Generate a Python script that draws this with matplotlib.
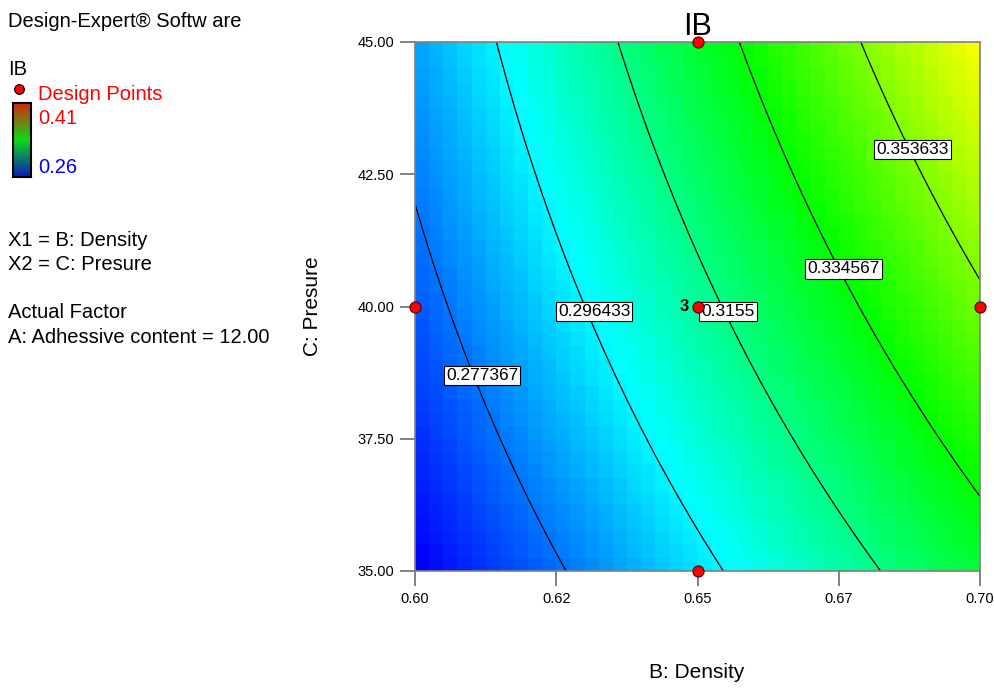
import numpy as np
import matplotlib
matplotlib.use("Agg")
import matplotlib.pyplot as plt
from matplotlib.colors import LinearSegmentedColormap

plt.rcParams['font.family'] = ['Liberation Sans', 'DejaVu Sans']

# ---- data ----
b_range = [0.60, 0.70]          # B: Density
c_range = [35.0, 45.0]          # C: Presure
# fitted quadratic model in coded units (x1 = B, x2 = C)
coef_names = ["const", "B", "C", "BC", "B2", "C2"]
coef_vals = [0.3121, 0.0393, 0.01735, 0.00505, 0.0, -0.00145]
levels = [0.277367, 0.296433, 0.3155, 0.334567, 0.353633]
level_labels = ["0.277367", "0.296433", "0.3155", "0.334567", "0.353633"]
label_b = [0.6119, 0.6317, 0.6554, 0.6758, 0.6881]
label_c = [38.69, 39.91, 39.91, 40.71, 42.96]
design_b = [0.60, 0.70, 0.65, 0.65, 0.65]
design_c = [40.0, 40.0, 45.0, 35.0, 40.0]
x_ticks = [0.60, 0.625, 0.65, 0.675, 0.70]
x_tick_labels = ["0.60", "0.62", "0.65", "0.67", "0.70"]
y_ticks = [35.0, 37.5, 40.0, 42.5, 45.0]
y_tick_labels = ["35.00", "37.50", "40.00", "42.50", "45.00"]
color_low, color_high = 0.26, 0.41

coef = dict(zip(coef_names, coef_vals))


def model(b, c):
    x1 = (b - 0.65) / 0.05
    x2 = (c - 40.0) / 5.0
    return (coef["const"] + coef["B"] * x1 + coef["C"] * x2 + coef["BC"] * x1 * x2
            + coef["B2"] * x1 ** 2 + coef["C2"] * x2 ** 2)


W, H = 994, 688
fig = plt.figure(figsize=(W / 100, H / 100), dpi=100)


def fx(px):
    return px / W


def fy(py):
    return 1 - py / H


ax = fig.add_axes([fx(415), fy(571), fx(980) - fx(415), fy(42) - fy(571)])

cmap = LinearSegmentedColormap.from_list(
    "de", [(0, 0, 1), (0, 1, 1), (0, 1, 0), (1, 1, 0), (1, 0, 0)])

# blocky colour field
nb, nc = 40, 40
be = np.linspace(b_range[0], b_range[1], nb + 1)
ce = np.linspace(c_range[0], c_range[1], nc + 1)
bcen = (be[:-1] + be[1:]) / 2
ccen = (ce[:-1] + ce[1:]) / 2
BB, CC = np.meshgrid(bcen, ccen)
ax.pcolormesh(be, ce, model(BB, CC), cmap=cmap, vmin=color_low, vmax=color_high,
              shading='flat', rasterized=True)

# contour lines
bf = np.linspace(b_range[0], b_range[1], 300)
cf = np.linspace(c_range[0], c_range[1], 300)
BF, CF = np.meshgrid(bf, cf)
ax.contour(BF, CF, model(BF, CF), levels=levels, colors='black', linewidths=0.9)

for lb, lc, txt in zip(label_b, label_c, level_labels):
    ax.text(lb, lc, txt, ha='center', va='center', fontsize=12.5, zorder=5,
            bbox=dict(boxstyle='square,pad=0.12', fc='white', ec='black', lw=0.8))

ax.plot(design_b, design_c, 'o', ms=8, mfc='red', mec='#500000', mew=0.8,
        clip_on=False, zorder=6)
ax.text(0.6485, 40.0, "3", ha='right', va='center', fontsize=12, fontweight='bold', zorder=6)

ax.set_xlim(b_range)
ax.set_ylim(c_range)
ax.set_xticks(x_ticks)
ax.set_xticklabels(x_tick_labels)
ax.set_yticks(y_ticks)
ax.set_yticklabels(y_tick_labels)
ax.tick_params(direction='out', length=11, width=1.4, color='#808080',
               labelsize=10.5, pad=4)
for s in ax.spines.values():
    s.set_color('#808080')
    s.set_linewidth(1.2)

ax.set_title("IB", fontsize=22, pad=2)
fig.text(fx(697), fy(672), "B: Density", ha='center', va='center', fontsize=15)
fig.text(fx(312), fy(306), "C: Presure", ha='center', va='center', fontsize=15,
         rotation=90)

# left annotation panel
fs = 14.5
fig.text(fx(8), fy(27), "Design-Expert\u00ae Softw are", fontsize=fs, va='baseline')
fig.text(fx(8), fy(75), "IB", fontsize=fs, va='baseline')
fig.text(fx(38), fy(100), "Design Points", fontsize=fs, va='baseline', color='red')
fig.text(fx(38), fy(124), "0.41", fontsize=fs, va='baseline', color='red')
fig.text(fx(38), fy(173), "0.26", fontsize=fs, va='baseline', color='blue')
fig.text(fx(8), fy(246), "X1 = B: Density", fontsize=fs, va='baseline')
fig.text(fx(8), fy(270), "X2 = C: Presure", fontsize=fs, va='baseline')
fig.text(fx(8), fy(318), "Actual Factor", fontsize=fs, va='baseline')
fig.text(fx(8), fy(343), "A: Adhessive content = 12.00", fontsize=fs, va='baseline')

mk = fig.add_axes([fx(12), fy(95), fx(26) - fx(12), fy(83) - fy(95)])
mk.plot([0], [0], 'o', ms=7, mfc='red', mec='black', mew=0.8)
mk.set_xlim(-1, 1)
mk.set_ylim(-1, 1)
mk.axis('off')

cb = fig.add_axes([fx(13), fy(177), fx(31) - fx(13), fy(103) - fy(177)])
legend_cmap = LinearSegmentedColormap.from_list(
    "lg", [(0.05, 0.1, 0.75), (0.05, 0.85, 0.1), (0.85, 0.15, 0.05)])
cb.imshow(np.linspace(1, 0, 100)[:, None], aspect='auto', cmap=legend_cmap)
cb.set_xticks([])
cb.set_yticks([])
for s in cb.spines.values():
    s.set_color('black')
    s.set_linewidth(1.5)

fig.savefig("out.png", dpi=100)
